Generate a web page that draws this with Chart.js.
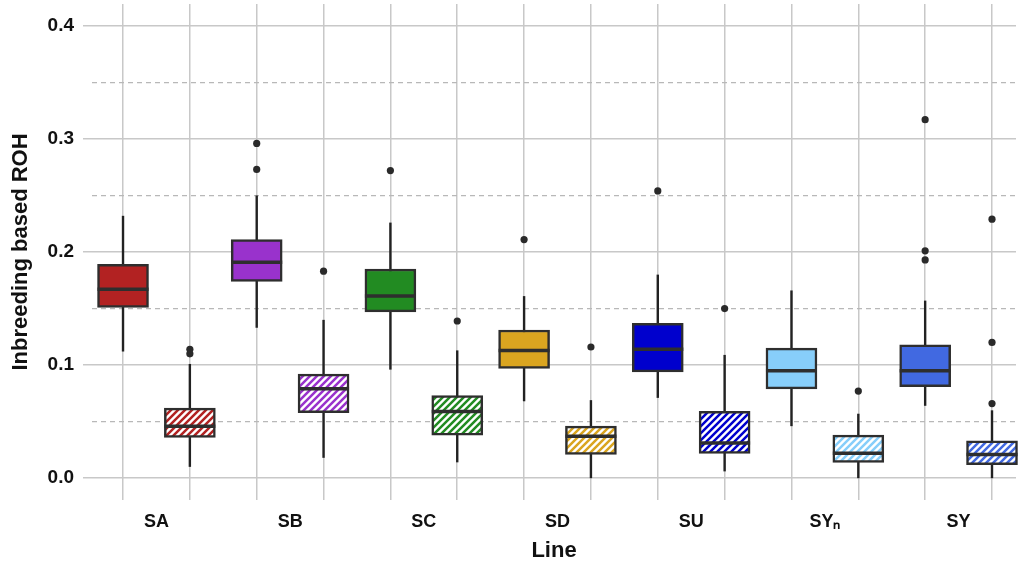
<!DOCTYPE html>
<html>
<head>
<meta charset="utf-8">
<script src="https://cdn.jsdelivr.net/npm/chart.js@4.4.0/dist/chart.umd.min.js"></script>
<style>
  html, body { margin: 0; padding: 0; background: #fff; overflow: hidden; }
  #wrap { width: 1020px; height: 564px; }
</style>
</head>
<body>
<div id="wrap"><canvas id="box-chart"></canvas></div>
<script>
  // lines, each with a solid box and a hatched box next to it
  const lines = ['SA', 'SB', 'SC', 'SD', 'SU', 'SYₙ', 'SY'];
  const lineColors = ['#B22222', '#9932CC', '#228B22', '#DAA520', '#0000CD', '#87CEFA', '#4169E1'];

  // order: SA, SA hatched, SB, SB hatched, ...
  const whiskerLow  = [0.112, 0.010, 0.133, 0.018, 0.096, 0.014, 0.068, 0.000, 0.071, 0.006, 0.046, 0.000, 0.064, 0.000];
  const q1          = [0.151, 0.036, 0.174, 0.058, 0.147, 0.038, 0.097, 0.021, 0.094, 0.022, 0.079, 0.014, 0.081, 0.012];
  const median      = [0.167, 0.046, 0.191, 0.079, 0.161, 0.059, 0.113, 0.037, 0.114, 0.031, 0.095, 0.022, 0.095, 0.021];
  const q3          = [0.189, 0.062, 0.211, 0.092, 0.185, 0.073, 0.131, 0.046, 0.137, 0.059, 0.115, 0.038, 0.118, 0.033];
  const whiskerHigh = [0.232, 0.101, 0.250, 0.140, 0.226, 0.113, 0.161, 0.069, 0.180, 0.109, 0.166, 0.057, 0.157, 0.060];
  const outliers = [
    [], [0.114, 0.110],
    [0.296, 0.273], [0.183],
    [0.272], [0.139],
    [0.211], [0.116],
    [0.254], [0.150],
    [], [0.077],
    [0.317, 0.201, 0.193], [0.229, 0.120, 0.066]
  ];

  const yMajor = [0, 0.1, 0.2, 0.3, 0.4];
  const yMinor = [0.05, 0.15, 0.25, 0.35];

  const ctx = document.getElementById('box-chart');
  const ctx2d = ctx.getContext('2d');

  function hatch(color) {
    const s = 7;
    const c = document.createElement('canvas');
    c.width = s; c.height = s;
    const g = c.getContext('2d');
    g.fillStyle = '#fff';
    g.fillRect(0, 0, s, s);
    g.strokeStyle = color;
    g.lineWidth = 2.5;
    g.beginPath();
    g.moveTo(0, s); g.lineTo(s, 0);
    g.moveTo(-s / 2, s / 2); g.lineTo(s / 2, -s / 2);
    g.moveTo(s / 2, s * 1.5); g.lineTo(s * 1.5, s / 2);
    g.stroke();
    return ctx2d.createPattern(c, 'repeat');
  }

  const fills = q1.map((v, i) => {
    const col = lineColors[Math.floor(i / 2)];
    return i % 2 ? hatch(col) : col;
  });

  const outlierPts = [];
  outliers.forEach((arr, i) => arr.forEach(v => outlierPts.push({ x: i, y: v })));

  const isMajor = v => yMajor.some(m => Math.abs(m - v) < 1e-9);

  // whiskers under the boxes, medians on top
  const boxParts = {
    id: 'boxParts',
    beforeDatasetsDraw(chart) {
      const { ctx, scales: { x, y } } = chart;
      ctx.save();
      ctx.strokeStyle = '#222';
      ctx.lineWidth = 2.4;
      whiskerLow.forEach((lo, i) => {
        const px = x.getPixelForValue(i);
        ctx.beginPath();
        ctx.moveTo(px, y.getPixelForValue(lo));
        ctx.lineTo(px, y.getPixelForValue(whiskerHigh[i]));
        ctx.stroke();
      });
      ctx.restore();
    },
    afterDatasetsDraw(chart) {
      const { ctx, scales: { x, y } } = chart;
      const bars = chart.getDatasetMeta(0).data;
      ctx.save();
      ctx.strokeStyle = '#2e2e2e';
      ctx.lineWidth = 3.5;
      median.forEach((m, i) => {
        const px = x.getPixelForValue(i);
        const hw = bars[i].width / 2;
        const py = y.getPixelForValue(m);
        ctx.beginPath();
        ctx.moveTo(px - hw, py);
        ctx.lineTo(px + hw, py);
        ctx.stroke();
      });
      ctx.restore();
    }
  };

  new Chart(ctx, {
    type: 'bar',
    data: {
      datasets: [{
        label: 'box',
        data: q1.map((v, i) => ({ x: i, y: [v, q3[i]] })),
        backgroundColor: fills,
        borderColor: '#2e2e2e',
        borderWidth: 2.5,
        borderSkipped: false,
        barThickness: 51,
        clip: false
      }, {
        type: 'scatter',
        label: 'outliers',
        data: outlierPts,
        pointRadius: 3.6,
        pointBackgroundColor: '#2a2a2a',
        pointBorderWidth: 0
      }]
    },
    options: {
      responsive: true,
      maintainAspectRatio: false,
      animation: false,
      layout: { padding: 0 },
      plugins: {
        legend: { display: false },
        tooltip: { enabled: false }
      },
      scales: {
        x: {
          type: 'linear',
          min: -0.464,
          max: 13.359,
          offset: false,
          afterBuildTicks(scale) {
            const t = [];
            for (let i = 0; i < 14; i++) {
              t.push({ value: i });
              if (i % 2 === 0) t.push({ value: i + 0.5 });
            }
            scale.ticks = t;
          },
          afterFit(scale) {
            scale.height = 64;
            scale.paddingLeft = 0;
            scale.paddingRight = 0;
          },
          grid: {
            offset: false,
            drawTicks: false,
            color: c => Number.isInteger(c.tick && c.tick.value) ? '#c8c8c8' : 'rgba(0,0,0,0)',
            lineWidth: 1.5
          },
          border: { display: false },
          ticks: {
            autoSkip: false,
            maxRotation: 0,
            padding: 11,
            color: '#111',
            font: { family: 'Liberation Sans, Arial, sans-serif', size: 18, weight: 'bold' },
            callback: v => {
              const k = (v - 0.5) / 2;
              return Number.isInteger(k) ? lines[k] : '';
            }
          },
          title: {
            display: true,
            text: 'Line',
            color: '#111',
            padding: { top: 0, bottom: 0 },
            font: { family: 'Liberation Sans, Arial, sans-serif', size: 22, weight: 'bold' }
          }
        },
        y: {
          min: -0.0193,
          max: 0.4193,
          afterBuildTicks(scale) {
            scale.ticks = yMajor.concat(yMinor).sort((a, b) => a - b).map(v => ({ value: v }));
          },
          afterFit(scale) {
            scale.width = 92;
            scale.paddingTop = 0;
            scale.paddingBottom = 0;
          },
          grid: {
            color: c => isMajor(c.tick.value) ? '#c8c8c8' : '#b8b8b8',
            lineWidth: c => isMajor(c.tick.value) ? 1.5 : 1.2,
            tickColor: c => isMajor(c.tick.value) ? '#c8c8c8' : 'rgba(0,0,0,0)',
            tickLength: 9
          },
          border: {
            display: false,
            dash: c => (c.tick && !isMajor(c.tick.value)) ? [5, 4] : []
          },
          ticks: {
            autoSkip: false,
            padding: 9,
            color: '#111',
            font: { family: 'Liberation Sans, Arial, sans-serif', size: 19, weight: 'bold' },
            callback: v => isMajor(v) ? v.toFixed(1) : ''
          },
          title: {
            display: true,
            text: 'Inbreeding based ROH',
            color: '#111',
            padding: { top: 8, bottom: 0 },
            font: { family: 'Liberation Sans, Arial, sans-serif', size: 22, weight: 'bold' }
          }
        }
      }
    },
    plugins: [boxParts]
  });
</script>
</body>
</html>
